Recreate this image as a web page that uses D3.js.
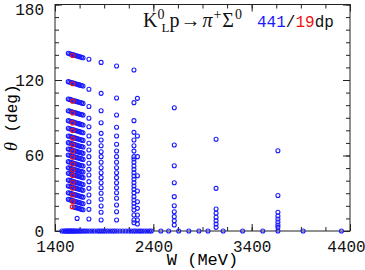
<!DOCTYPE html>
<html>
<head>
<meta charset="utf-8">
<script src="https://cdn.jsdelivr.net/npm/d3@7"></script>
<style>
	body {margin: 0; background: #fff;}
	svg {display: block;}
	.tick text {font-family: "Liberation Mono", monospace; font-size: 16px; fill: #111;}
</style>
</head>
<body>
<div id="chart"></div>
<script>
// W (MeV) of the dense streaks near threshold
let streakW = [1535, 1550, 1565, 1580, 1595, 1610, 1625, 1640, 1655, 1670, 1685];
// angle (deg) of each streak at every streakW value (null = no point)
let streakTheta = [
	[141.2, 140.9, 140.5, 140.2, 139.8, 139.5, 139.1, 138.8, 138.4, 138.1, 137.7],
	[118.7, 118.4, 118.0, 117.7, 117.3, 117.0, 116.6, 116.3, 115.9, 115.6, 115.2],
	[104.9, 104.6, 104.2, 103.9, 103.5, 103.2, 102.8, 102.5, 102.1, 101.8, 101.4],
	[95.6, 95.3, 94.9, 94.6, 94.2, 93.9, 93.5, 93.2, 92.8, 92.5, 92.1],
	[87.7, 87.4, 87.0, 86.7, 86.3, 86.0, 85.6, 85.3, 84.9, 84.6, 84.2],
	[81.6, 81.3, 80.9, 80.6, 80.2, 79.9, 79.5, 79.2, 78.8, 78.5, 78.1],
	[75.5, 75.2, 74.8, 74.5, 74.1, 73.8, 73.4, 73.1, 72.7, 72.4, 72.0],
	[70.2, 69.9, 69.5, 69.2, 68.8, 68.5, 68.1, 67.8, 67.4, 67.1, 66.7],
	[65.2, 64.9, 64.5, 64.2, 63.8, 63.5, 63.1, 62.8, 62.4, 62.1, 61.7],
	[60.4, 60.1, 59.7, 59.4, 59.0, 58.7, 58.3, 58.0, 57.6, 57.3, 56.9],
	[55.1, 54.8, 54.4, 54.1, 53.7, 53.4, 53.0, 52.7, 52.3, 52.0, 51.6],
	[50.3, 50.0, 49.6, 49.3, 48.9, 48.6, 48.2, 47.9, 47.5, 47.2, 46.8],
	[45.9, 45.6, 45.2, 44.9, 44.5, 44.2, 43.8, 43.5, 43.1, 42.8, 42.4],
	[40.5, 40.2, 39.8, 39.5, 39.1, 38.8, 38.4, 38.1, 37.7, 37.4, 37.0],
	[35.8, 35.5, 35.1, 34.8, 34.4, 34.1, 33.7, 33.4, 33.0, 32.7, 32.3],
	[30.4, 30.1, 29.7, 29.4, 29.0, 28.7, 28.3, 28.0, 27.6, 27.3, 26.9],
	[25.2, 24.9, 24.5, 24.2, 23.8, 23.5, 23.1, 22.8, 22.4, 22.1, 21.7],
	[null, null, null, null, 19.0, 18.7, 18.3, 18.0, 17.6, 17.3, 16.9]
];
// red (second data type) points inside the streaks
let redW = [1580, 1580, 1580, 1580, 1580, 1580, 1580, 1580, 1580, 1580, 1580, 1580, 1580, 1580, 1580, 1580, 1580, 1575];
let redTheta = [139.5, 117.0, 103.2, 93.8, 85.9, 79.8, 73.7, 68.4, 63.4, 58.6, 53.3, 48.5, 44.1, 38.7, 34.0, 28.6, 23.4, 19.2];

// single-energy angular distributions
let colW = [1745, 1869, 2026, 2203, 2238, 2613, 3038, 3667];
let colTheta = [
	[136.5, 112.6, 99.0, 89.6, 82.9, 75.5, 69.7, 64.4, 59.1, 53.8, 49.0, 44.5, 39.2, 33.9, 28.6, 23.3, 17.2, 9.5],
	[134.0, 109.4, 95.6, 86.0, 77.6, 72.3, 67.8, 63.0, 59.1, 54.6, 50.3, 46.3, 42.4, 38.4, 34.4, 30.0, 25.2, 19.9, 14.9, 8.7],
	[131.1, 105.7, 92.2, 82.4, 75.5, 68.9, 63.6, 59.1, 54.6, 50.3, 46.3, 42.4, 38.4, 34.4, 30.4, 26.0, 20.7, 15.3, 8.7],
	[128.0, 102.0, 87.7, 78.4, 72.3, 67.8, 63.5, 59.1, 57.2, 54.6, 51.7, 49.0, 46.3, 43.7, 41.1, 38.4, 35.8, 33.1, 30.4, 27.3, 24.6, 22.0, 19.3, 16.7, 12.7, 8.7, 6.6],
	[105.4, 75.5, 59.1, 43.9, 31.8, 23.3, 18.0, 12.7, 8.7, 5.6],
	[98.0, 68.3, 51.9, 38.4, 27.3, 20.1, 15.3, 11.4, 8.2, 4.8],
	[72.9, 33.9, 17.5, 14.1, 10.9, 8.2, 5.6, 2.9],
	[63.8, 28.2, 14.9, 11.9, 9.5, 7.2, 4.8, 2.9]
];
// isolated point below the streaks
let extraW = [1625];
let extraTheta = [10.0];

// integrated data, plotted at theta = 0
let zeroW = [1470, 1490, 1505, 1515, 1525, 1535, 1545, 1555, 1565, 1575, 1585, 1595, 1605, 1620, 1635,
	1650, 1665, 1685, 1705, 1725, 1750, 1775, 1800, 1830, 1850, 1870, 1890, 1910, 1935, 1960,
	1985, 2005, 2030, 2060, 2090, 2120, 2150, 2175, 2200, 2220, 2245, 2265, 2285, 2310, 2335,
	2360, 2380, 2477, 2556, 2658, 2761, 2864, 2956, 3110, 3308, 3513, 3667, 3923, 4313];

let xMajor = [1400, 2400, 3400, 4400];
let xMinor = d3.range(1400, 4401, 250);
let yMajor = [0, 60, 120, 180];
let yMinor = d3.range(0, 181, 10);

let W = 365, H = 270;
let margin = {top: 4.5, right: 15, bottom: 39, left: 55};

let svg = d3.select("#chart").append("svg")
	.attr("width", W)
	.attr("height", H);

let x = d3.scaleLinear().domain([1400, 4400]).range([margin.left, W - margin.right]);
let y = d3.scaleLinear().domain([0, 180]).range([H - margin.bottom, margin.top]);

// build point lists
let bluePts = [];
streakTheta.forEach(row => row.forEach((t, i) => { if (t !== null) bluePts.push([streakW[i], t]); }));
colTheta.forEach((col, j) => col.forEach(t => bluePts.push([colW[j], t])));
extraW.forEach((w, i) => bluePts.push([w, extraTheta[i]]));
zeroW.forEach(w => bluePts.push([w, 0]));
let redPts = redW.map((w, i) => [w, redTheta[i]]);

// axes (ticks point inwards)
function addAxis(axis, tx, ty) {
	let g = svg.append("g")
		.attr("transform", "translate(" + tx + "," + ty + ")")
		.call(axis);
	g.select(".domain").remove();
	g.selectAll(".tick line").attr("stroke", "#222");
	return g;
}
let xb = y(0), xt = y(180), yl = x(1400), yr = x(4400);
addAxis(d3.axisBottom(x).tickValues(xMinor).tickSize(-4).tickFormat(""), 0, xb);
let xLab = addAxis(d3.axisBottom(x).tickValues(xMajor).tickSize(-7).tickPadding(10).tickFormat(d3.format("d")), 0, xb);
// keep the last label inside the picture
xLab.selectAll(".tick text").filter(d => d === 4400).attr("dx", -4);
addAxis(d3.axisTop(x).tickValues(xMinor).tickSize(-4).tickFormat(""), 0, xt);
addAxis(d3.axisTop(x).tickValues(xMajor).tickSize(-7).tickFormat(""), 0, xt);
addAxis(d3.axisLeft(y).tickValues(yMinor).tickSize(-4).tickFormat(""), yl, 0);
let yLab = addAxis(d3.axisLeft(y).tickValues(yMajor).tickSize(-7).tickPadding(11).tickFormat(d3.format("d")), yl, 0);
yLab.selectAll(".tick text").filter(d => d === 180).attr("dy", "0.62em");
addAxis(d3.axisRight(y).tickValues(yMinor).tickSize(-4).tickFormat(""), yr, 0);
addAxis(d3.axisRight(y).tickValues(yMajor).tickSize(-7).tickFormat(""), yr, 0);

svg.append("rect")
	.attr("x", yl)
	.attr("y", xt)
	.attr("width", yr - yl)
	.attr("height", xb - xt)
	.attr("fill", "none")
	.attr("stroke", "#222")
	.attr("stroke-width", 1);

// data points
svg.append("g").selectAll("circle")
	.data(bluePts)
	.enter()
	.append("circle")
	.attr("cx", d => x(d[0]))
	.attr("cy", d => y(d[1]))
	.attr("r", 2)
	.attr("fill", "none")
	.attr("stroke", "#1a1aff")
	.attr("stroke-width", 1.1);

svg.append("g").selectAll("circle")
	.data(redPts)
	.enter()
	.append("circle")
	.attr("cx", d => x(d[0]))
	.attr("cy", d => y(d[1]))
	.attr("r", 2)
	.attr("fill", "none")
	.attr("stroke", "#ee1111")
	.attr("stroke-width", 1.1);

// axis titles
svg.append("text")
	.attr("x", (yl + yr) / 2)
	.attr("y", 265)
	.attr("text-anchor", "middle")
	.style("font-family", "Liberation Mono, monospace")
	.style("font-size", "17px")
	.text("W (MeV)");

let yt = svg.append("text")
	.attr("transform", "translate(17," + y(90) + ")rotate(-90)")
	.attr("text-anchor", "middle")
	.style("font-family", "Liberation Mono, monospace")
	.style("font-size", "16px");
yt.append("tspan").style("font-family", "Liberation Serif, serif").style("font-style", "italic").style("font-size", "18px").text("θ");
yt.append("tspan").text(" (deg)");

// reaction label
let title = svg.append("text")
	.attr("x", 143)
	.attr("y", 27)
	.style("font-family", "Liberation Serif, serif")
	.style("font-size", "20px")
	.attr("fill", "#111");
title.append("tspan").text("K");
title.append("tspan").attr("dy", -8).style("font-size", "14px").text("0");
title.append("tspan").attr("dy", 13).attr("dx", -3).style("font-size", "13px").text("L");
title.append("tspan").attr("dy", -5).text("p");
title.append("tspan").attr("dx", 1).text("→");
title.append("tspan").attr("dx", 2).style("font-style", "italic").text("π");
title.append("tspan").attr("dy", -8).attr("dx", 1).style("font-size", "14px").text("+");
title.append("tspan").attr("dy", 8).attr("dx", 1).text("Σ");
title.append("tspan").attr("dy", -8).attr("dx", 1).style("font-size", "14px").text("0");

let count = svg.append("text")
	.attr("x", 257)
	.attr("y", 27)
	.style("font-family", "Liberation Mono, monospace")
	.style("font-size", "16px")
	.attr("fill", "#111");
count.append("tspan").attr("fill", "#1a1aff").text("441");
count.append("tspan").attr("fill", "#111").text("/");
count.append("tspan").attr("fill", "#ee1111").text("19");
count.append("tspan").attr("fill", "#111").text("dp");
</script>
</body>
</html>
